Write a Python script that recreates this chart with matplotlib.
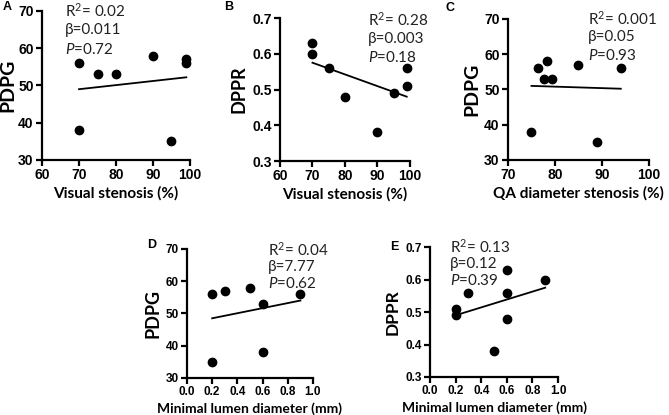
import matplotlib
matplotlib.use('Agg')
import matplotlib.pyplot as plt

plt.rcParams['mathtext.fontset'] = 'custom'
plt.rcParams['mathtext.rm'] = 'Lato'
plt.rcParams['mathtext.it'] = 'Lato:italic'

# panel A: visual stenosis vs PDPG
a_x = [70, 70, 75, 80, 90, 95, 99, 99]
a_y = [56, 38, 53, 53, 58, 35, 57, 56]
a_fit_x = [70, 99]
a_fit_y = [49.0, 52.2]

# panel B: visual stenosis vs DPPR
b_x = [70, 70, 75, 80, 90, 95, 99, 99]
b_y = [0.63, 0.60, 0.56, 0.48, 0.38, 0.49, 0.56, 0.51]
b_fit_x = [70, 99]
b_fit_y = [0.575, 0.48]

# panel C: QA diameter stenosis vs PDPG
c_x = [75, 76.3, 77.7, 78.3, 79.3, 85, 89, 94]
c_y = [38, 56, 53, 58, 53, 57, 35, 56]
c_fit_x = [75, 94]
c_fit_y = [51.0, 50.2]

# panel D: minimal lumen diameter vs PDPG
d_x = [0.2, 0.2, 0.3, 0.5, 0.6, 0.6, 0.9]
d_y = [56, 35, 57, 58, 53, 38, 56]
d_fit_x = [0.2, 0.9]
d_fit_y = [48.5, 54.0]

# panel E: minimal lumen diameter vs DPPR
e_x = [0.2, 0.2, 0.3, 0.5, 0.6, 0.6, 0.6, 0.9]
e_y = [0.51, 0.49, 0.56, 0.38, 0.63, 0.56, 0.48, 0.60]
e_fit_x = [0.2, 0.9]
e_fit_y = [0.49, 0.575]

stats = {
    'A': ['R$^{2}$= 0.02', '\u03b2=0.011', '$\\it{P}$=0.72'],
    'B': ['R$^{2}$= 0.28', '\u03b2=0.003', '$\\it{P}$=0.18'],
    'C': ['R$^{2}$= 0.001', '\u03b2=0.05', '$\\it{P}$=0.93'],
    'D': ['R$^{2}$= 0.04', '\u03b2=7.77', '$\\it{P}$=0.62'],
    'E': ['R$^{2}$= 0.13', '\u03b2=0.12', '$\\it{P}$=0.39'],
}

fig = plt.figure(figsize=(6.69, 4.15), dpi=100)


def panel(rect, x, y, fx, fy, xlim, xticks, ylim, yticks, xlabel, ylabel,
          lines, tx, ty, ylab_size=13, tick_size=10, xlab_size=11,
          ylab_pad=3, xfmt='{:g}', yfmt='{:g}'):
    ax = fig.add_axes(rect)
    ax.scatter(x, y, s=36, color='black', zorder=3, clip_on=False)
    ax.plot(fx, fy, color='black', linewidth=1.3)
    ax.set_xlim(*xlim)
    ax.set_ylim(*ylim)
    ax.set_xticks(xticks)
    ax.set_yticks(yticks)
    ax.set_xticklabels([xfmt.format(v) for v in xticks])
    ax.set_yticklabels([yfmt.format(v) for v in yticks])
    for s in ['top', 'right']:
        ax.spines[s].set_visible(False)
    for s in ['left', 'bottom']:
        ax.spines[s].set_linewidth(1.6)
    ax.tick_params(width=1.6, length=4, direction='out', pad=2)
    for lab in ax.get_xticklabels() + ax.get_yticklabels():
        lab.set_fontfamily('Liberation Sans')
        lab.set_fontweight('bold')
        lab.set_fontsize(tick_size)
    ax.set_xlabel(xlabel, fontfamily='Lato', fontweight='bold', fontsize=xlab_size, labelpad=3)
    ax.set_ylabel(ylabel, fontfamily='Lato', fontweight='bold', fontsize=ylab_size,
                  labelpad=ylab_pad)
    for i, t in enumerate(lines):
        ax.text(tx, ty - i * 0.13, t, transform=ax.transAxes, fontfamily='Lato',
                fontsize=11, va='center', ha='left', color='#222222')
    return ax


panel([0.0628, 0.6145, 0.2212, 0.359], a_x, a_y, a_fit_x, a_fit_y,
      (60, 100), [60, 70, 80, 90, 100], (30, 70), [30, 40, 50, 60, 70],
      'Visual stenosis (%)', 'PDPG', stats['A'], 0.155, 1.0, ylab_size=14,
      ylab_pad=1)
panel([0.4185, 0.612, 0.1943, 0.3446], b_x, b_y, b_fit_x, b_fit_y,
      (60, 100), [60, 70, 80, 90, 100], (0.3, 0.7), [0.3, 0.4, 0.5, 0.6, 0.7],
      'Visual stenosis (%)', 'DPPR', stats['B'], 0.677, 0.986, yfmt='{:.1f}')
panel([0.7593, 0.6145, 0.2108, 0.34], c_x, c_y, c_fit_x, c_fit_y,
      (70, 100), [70, 80, 90, 100], (30, 70), [30, 40, 50, 60, 70],
      'QA diameter stenosis (%)', 'PDPG', stats['C'], 0.567, 1.0, ylab_size=14)
panel([0.2795, 0.0892, 0.1883, 0.311], d_x, d_y, d_fit_x, d_fit_y,
      (0, 1.0), [0.0, 0.2, 0.4, 0.6, 0.8, 1.0], (30, 70), [30, 40, 50, 60, 70],
      'Minimal lumen diameter (mm)', 'PDPG', stats['D'], 0.643, 0.99,
      tick_size=8.5, xlab_size=10, xfmt='{:.1f}')
panel([0.6428, 0.0916, 0.1913, 0.313], e_x, e_y, e_fit_x, e_fit_y,
      (0, 1.0), [0.0, 0.2, 0.4, 0.6, 0.8, 1.0], (0.3, 0.7), [0.3, 0.4, 0.5, 0.6, 0.7],
      'Minimal lumen diameter (mm)', 'DPPR', stats['E'], 0.156, 1.0,
      ylab_size=12.5, tick_size=8.5, xlab_size=10, xfmt='{:.1f}', yfmt='{:.1f}')

# panel letters
for letter, px, py in [('A', 3, 7), ('B', 224, 7), ('C', 445, 8), ('D', 147, 245), ('E', 390, 247)]:
    fig.text(px / 669, 1 - py / 415, letter, fontfamily='Liberation Sans',
             fontweight='bold', fontsize=9, va='center', ha='left')

fig.savefig('out.png', dpi=100)
